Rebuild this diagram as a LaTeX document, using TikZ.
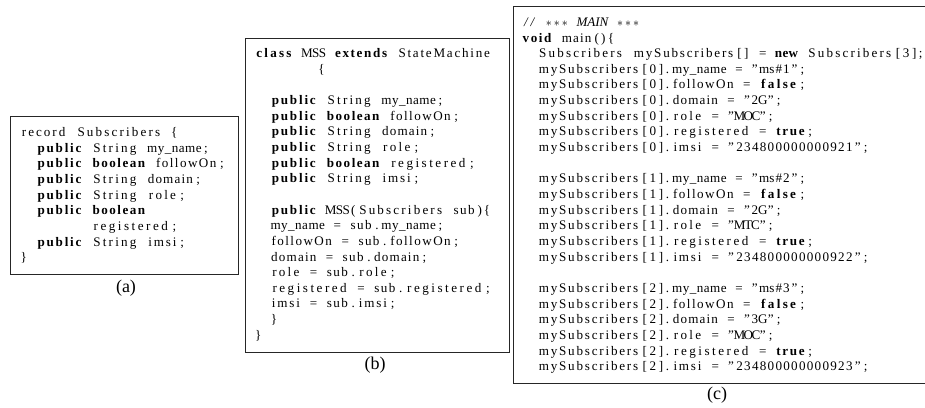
\documentclass[tikz,border=0pt]{standalone}
\usepackage{fontspec}
\setmainfont{Liberation Serif}
\usepackage{listings}

% Source fragments shown in the three panels
\begin{filecontents*}[overwrite]{subscribers.java}
record Subscribers {
  public String my_name;
  public boolean followOn;
  public String domain;
  public String role;
  public boolean
         registered;
  public String imsi;
}
\end{filecontents*}

\begin{filecontents*}[overwrite]{mss.java}
class MSS extends StateMachine
        {

  public String my_name;
  public boolean followOn;
  public String domain;
  public String role;
  public boolean registered;
  public String imsi;

  public MSS(Subscribers sub){
  my_name = sub.my_name;
  followOn = sub.followOn;
  domain = sub.domain;
  role = sub.role;
  registered = sub.registered;
  imsi = sub.imsi;
  }
}
\end{filecontents*}

\begin{filecontents*}[overwrite]{main.java}
// *** MAIN ***
void main(){
  Subscribers mySubscribers[] = new Subscribers[3];
  mySubscribers[0].my_name = "ms#1";
  mySubscribers[0].followOn = false;
  mySubscribers[0].domain = "2G";
  mySubscribers[0].role = "MOC";
  mySubscribers[0].registered = true;
  mySubscribers[0].imsi = "234800000000921";

  mySubscribers[1].my_name = "ms#2";
  mySubscribers[1].followOn = false;
  mySubscribers[1].domain = "2G";
  mySubscribers[1].role = "MTC";
  mySubscribers[1].registered = true;
  mySubscribers[1].imsi = "234800000000922";

  mySubscribers[2].my_name = "ms#3";
  mySubscribers[2].followOn = false;
  mySubscribers[2].domain = "3G";
  mySubscribers[2].role = "MOC";
  mySubscribers[2].registered = true;
  mySubscribers[2].imsi = "234800000000923";
\end{filecontents*}

\lstset{
  language=Java,
  basicstyle=\fontsize{13.1}{15.65}\selectfont,
  keywordstyle=\bfseries,
  commentstyle=\itshape,
  columns=fixed,
  basewidth=7.92pt,
  showstringspaces=false,
  aboveskip=0pt,
  belowskip=0pt,
  xleftmargin=0pt,
  literate={*}{{$\ast$}}1 {"}{{\textquotedblright}}1
}

\tikzset{
  codeframe/.style={draw=black!85, line width=0.9pt, inner sep=0pt,
    anchor=north west},
  codetext/.style={inner sep=0pt, anchor=north west},
  subcap/.style={inner sep=0pt, font=\fontsize{18}{20}\selectfont}
}

\begin{document}
\begin{tikzpicture}[x=1pt, y=-1pt]
  \useasboundingbox (0,0) rectangle (925,407);

  % panel (a): the record type
  \node[codeframe, minimum width=228pt, minimum height=158pt] (framea) at (10,116) {};
  \node[codetext] (codea) at (19.7,125.3)
    {\begin{minipage}[t]{215pt}\lstinputlisting{subscribers.java}\end{minipage}};
  \node[subcap] (capa) at (126,288) {(a)};

  % panel (b): the state machine class
  \node[codeframe, minimum width=263.5pt, minimum height=314.5pt] (frameb) at (245,37.5) {};
  \node[codetext] (codeb) at (254,46.4)
    {\begin{minipage}[t]{252pt}\lstinputlisting{mss.java}\end{minipage}};
  \node[subcap] (capb) at (375,365) {(b)};

  % panel (c): the main routine
  \node[codeframe, minimum width=412pt, minimum height=377pt] (framec) at (512.5,6) {};
  \node[codetext] (codec) at (521,15.2)
    {\begin{minipage}[t]{402pt}\lstinputlisting{main.java}\end{minipage}};
  \node[subcap] (capc) at (717,395) {(c)};
\end{tikzpicture}
\end{document}
